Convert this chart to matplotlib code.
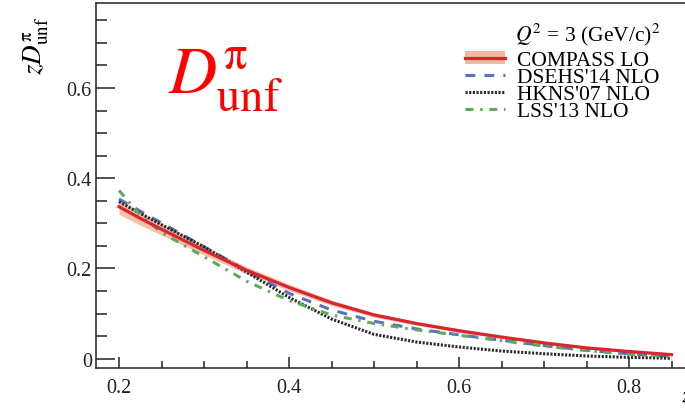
import numpy as np
import matplotlib
matplotlib.use("Agg")
import matplotlib.pyplot as plt
from matplotlib.lines import Line2D
from matplotlib.patches import Patch
from matplotlib.ticker import MultipleLocator, FuncFormatter

plt.rcParams['font.family'] = ['Liberation Serif', 'DejaVu Serif']
plt.rcParams['mathtext.fontset'] = 'stix'

# values
z = [0.20, 0.225, 0.25, 0.30, 0.35, 0.40, 0.45, 0.50, 0.55, 0.60, 0.65, 0.70, 0.75, 0.80, 0.85]
compass = [0.337, 0.311, 0.287, 0.240, 0.196, 0.158, 0.124, 0.097, 0.078, 0.062, 0.048, 0.035, 0.024, 0.016, 0.009]
compass_lo = [0.320, 0.296, 0.274, 0.230, 0.188, 0.151, 0.118, 0.092, 0.074, 0.058, 0.045, 0.032, 0.022, 0.014, 0.007]
compass_hi = [0.354, 0.326, 0.300, 0.250, 0.204, 0.165, 0.130, 0.102, 0.082, 0.066, 0.051, 0.038, 0.026, 0.018, 0.011]
dsehs = [0.354, 0.327, 0.301, 0.248, 0.195, 0.145, 0.108, 0.083, 0.066, 0.053, 0.041, 0.029, 0.019, 0.011, 0.005]
hkns = [0.348, 0.322, 0.297, 0.248, 0.192, 0.136, 0.088, 0.054, 0.037, 0.026, 0.017, 0.011, 0.006, 0.003, 0.001]
lss = [0.373, 0.318, 0.280, 0.226, 0.172, 0.129, 0.097, 0.078, 0.064, 0.052, 0.040, 0.028, 0.018, 0.010, 0.005]

labels = ["COMPASS LO", "DSEHS'14 NLO", "HKNS'07 NLO", "LSS'13 NLO"]
red, band = '#d8262c', '#f2b9a2'
blue, dark, green = '#5b70bf', '#2a2a2a', '#5cab5c'

fig = plt.figure(figsize=(6.85, 4.10), dpi=100)
W, H = 685.0, 410.0
ax = fig.add_axes([96 / W, 41 / H, (690 - 96) / W, (406 - 41) / H])

ax.fill_between(z, compass_lo, compass_hi, color=band, lw=0, alpha=0.9)
ax.plot(z, dsehs, color=blue, lw=2.2, dashes=(3.2, 3.0))
ax.plot(z, hkns, color=dark, lw=2.2, dashes=(0.7, 0.5))
ax.plot(z, lss, color=green, lw=2.2, dashes=(2.6, 2.2, 0.8, 2.2))
ax.plot(z, compass, color=red, lw=2.3)

ax.set_xlim(0.2 - 23 / 850, 0.2 + (690 - 119) / 850)
ax.set_ylim(-9.3 / 451.5, 356 / 451.5)

ax.xaxis.set_major_locator(MultipleLocator(0.2))
ax.xaxis.set_minor_locator(MultipleLocator(0.05))
ax.yaxis.set_major_locator(MultipleLocator(0.2))
ax.yaxis.set_minor_locator(MultipleLocator(0.05))
ax.yaxis.set_major_formatter(FuncFormatter(lambda v, p: '0' if abs(v) < 1e-9 else '%.1f' % v))
ax.xaxis.set_major_formatter(FuncFormatter(lambda v, p: '%.1f' % v))
ax.tick_params(axis='both', which='both', direction='in', width=1.1, colors='#222222',
               labelsize=14.5, top=False, right=False)
ax.tick_params(axis='x', which='major', length=8, pad=7)
ax.tick_params(axis='x', which='minor', length=5)
ax.tick_params(axis='y', which='major', length=14, pad=3)
ax.tick_params(axis='y', which='minor', length=8)
for s in ['left', 'bottom', 'top', 'right']:
    ax.spines[s].set_linewidth(1.1)
    ax.spines[s].set_color('#222222')

fig.text(36 / W, 1 - 17 / H, r'$zD^{\mathrm{\pi}}_{\mathrm{unf}}$', rotation=90,
         ha='center', va='top', fontsize=19.5)
fig.text(681 / W, 3 / H, r'$z$', ha='left', va='bottom', fontsize=16)

fig.text(168 / W, 1 - 93 / H, r'$D^{\mathrm{\pi}}_{\mathrm{unf}}$', color='red',
         fontsize=48, ha='left', va='baseline')

fig.text(515 / W, 1 - 41 / H, r'$Q^2$ = 3 (GeV/c)$^2$', fontsize=15.5, ha='left', va='baseline')

handles = [(Patch(facecolor=band, edgecolor='none'), Line2D([], [], color=red, lw=2.3)),
           Line2D([], [], color=blue, lw=2.2, dashes=(3.2, 3.0)),
           Line2D([], [], color=dark, lw=2.2, dashes=(0.7, 0.5)),
           Line2D([], [], color=green, lw=2.2, dashes=(2.6, 2.2, 0.8, 2.2))]
leg = fig.legend(handles, labels, loc='upper left', bbox_to_anchor=(465 / W, 1 - 52 / H),
                 frameon=False, fontsize=15.5, borderpad=0, borderaxespad=0,
                 handlelength=1.85, handleheight=0.55, handletextpad=0.55, labelspacing=-0.1)

fig.savefig('out.png', dpi=100)
